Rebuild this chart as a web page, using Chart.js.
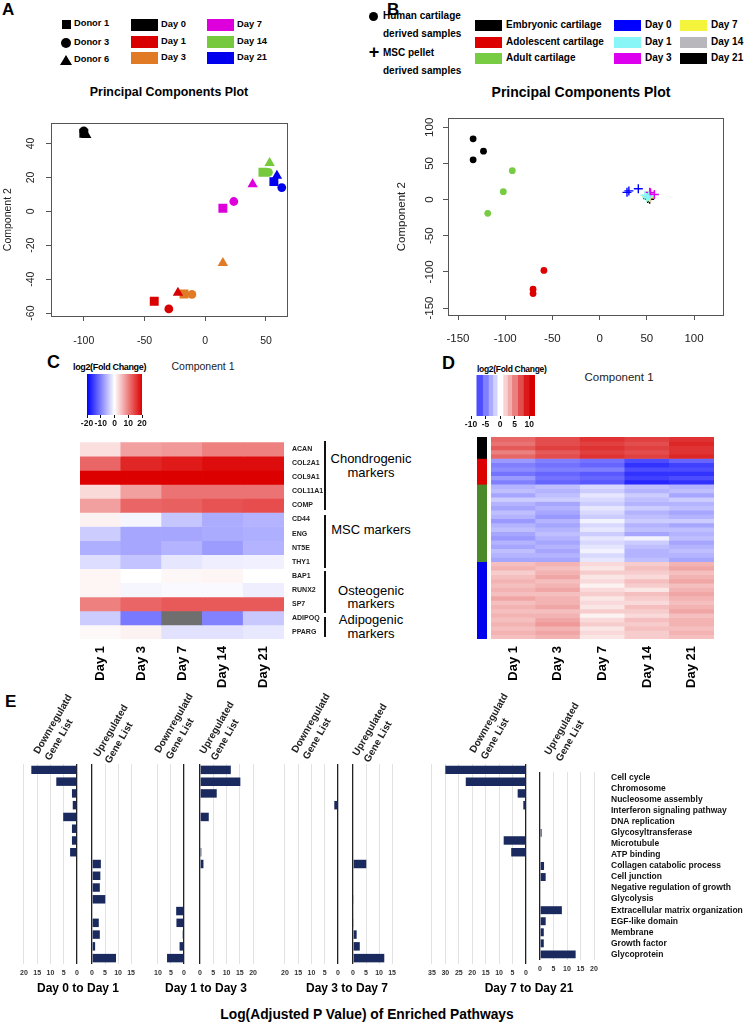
<!DOCTYPE html>
<html>
<head>
<meta charset="utf-8">
<script src="https://cdn.jsdelivr.net/npm/chart.js@4.4.1/dist/chart.umd.min.js"></script>
<style>
body { margin: 0; background: #fff; }
#fig { position: relative; width: 753px; height: 1026px; overflow: hidden; font-family: 'Liberation Sans', Arial, Helvetica, sans-serif; color: #000; }
#fig canvas { position: absolute; }
.t { position: absolute; white-space: nowrap; line-height: 1; }
.hdr { position: absolute; white-space: nowrap; font-weight: bold; font-size: 10px; line-height: 12.5px; color: #222; transform-origin: 0 0; transform: rotate(-60deg); }
</style>
</head>
<body>
<div id="fig"></div>
<script>
// ---- Panel A: PCA, shapes = donors, colours = days ----
const daysA = ['Day 0', 'Day 1', 'Day 3', 'Day 7', 'Day 14', 'Day 21'];
const colorsA = ['#000000', '#d80000', '#e07a24', '#dd00dd', '#76c83c', '#0000ee'];
const donorsA = ['Donor 1', 'Donor 3', 'Donor 6'];
const shapesA = ['rect', 'circle', 'triangle'];
// component 1 / component 2, one row per day, donors 1, 3, 6
const pcaA_x = [[-100, -100, -98], [-42, -30, -22.5], [-17.5, -11, 14.5], [14.5, 23.5, 39], [47.5, 52, 53], [56.5, 63, 59]];
const pcaA_y = [[46, 47.4, 45], [-53, -57.5, -48], [-48.7, -49, -30.5], [1.8, 5.8, 16], [23, 23, 28.5], [17.5, 14, 21]];

// ---- Panel B: PCA, cartilage samples vs MSC pellets ----
const groupsB = ['Embryonic cartilage', 'Adolescent cartilage', 'Adult cartilage', 'Day 0', 'Day 1', 'Day 3', 'Day 7', 'Day 14', 'Day 21'];
const colorsB = ['#000000', '#dd0000', '#77cc44', '#0000ff', '#88f6f6', '#dd00ee', '#f4f43c', '#b8b8bc', '#000000'];
const pcaB_x = [[-134, -134, -123], [-59, -70.5, -70.5], [-92.5, -102, -118.5], [29, 31, 41], [50, 52, 48], [54, 58, 53], [51, 53, 50], [50, 52, 54], [51, 52, 53]];
const pcaB_y = [[84, 55, 67], [-98, -124, -130], [40, 11, -19], [10, 12, 15], [3, 5, 6], [9.5, 7, 10], [4, 3, 5], [5, 4, 3], [1.5, 3, 0.5]];

// ---- Panel C: marker genes, log2 fold change ----
const daysHeat = ['Day 1', 'Day 3', 'Day 7', 'Day 14', 'Day 21'];
const genesC = ['ACAN', 'COL2A1', 'COL9A1', 'COL11A1', 'COMP', 'CD44', 'ENG', 'NT5E', 'THY1', 'BAP1', 'RUNX2', 'SP7', 'ADIPOQ', 'PPARG'];
const foldC = [
    [2.5, 7.5, 8, 10, 10],
    [12, 17, 18, 19, 19],
    [20, 20, 20, 20, 20],
    [3, 7.5, 11, 11, 11],
    [7.5, 12, 12.5, 13.5, 14],
    [1, -0.8, -4.5, -6.5, -6],
    [-4, -7, -7, -6.7, -6.3],
    [-6.3, -7, -6, -7.8, -6],
    [-2.7, -4.7, -2, -1.3, -1.2],
    [0.8, 0, 0.6, 0.8, 0],
    [0.8, -0.7, -0.5, -0.5, -1.3],
    [10, 12, 13, 13, 13],
    [-4, -10.5, null, -9.8, -4.3],
    [0.5, 1, -2.3, -2.3, -1.8]
];
const groupsC = [['Chondrogenic', 'markers'], ['MSC markers'], ['Osteogenic', 'markers'], ['Adipogenic', 'markers']];

// ---- Panel D: genes grouped by cartilage signature ----
const dGroupColors = ['#000000', '#dd0000', '#4a8a2a', '#0000ee'];
const foldD_black = [
    [6, 7, 8, 7.5, 8], [5.5, 7, 7.5, 7, 8.5], [6.5, 7.5, 8, 7.5, 8], [5, 6.5, 7.5, 7, 8], [6, 7, 8, 7.5, 8.5]
];
const foldD_red = [
    [-4, -5, -5.5, -7, -6], [-5, -5.5, -6, -8, -7.5], [-4.5, -5, -5, -7, -7],
    [-5.5, -6, -6.5, -8, -8], [-4, -5.5, -6, -7.5, -7], [-5, -6, -6.5, -8.5, -8]
];
const foldD_green = [
    [-3, -2.5, -1.5, -2.5, -3], [-2.5, -3, -2, -3, -2.5], [-3.5, -2.5, -1, -2, -3.5],
    [-2, -2, -1.5, -2.5, -2], [-3, -3.5, -2, -3, -3], [-3.5, -3, -1, -2, -2.5],
    [-2.5, -3.5, -1.5, -3, -3.5], [-3, -4, -2, -2.5, -3], [-4, -3, -0.5, -2, -2],
    [-3, -3.5, -1.5, -3, -3.5], [-2.5, -3, -1, -2.5, -2.5], [-3.5, -2.5, -2, -3.5, -3],
    [-4, -3, -1, -0.5, -2.5], [-3, -3.5, -1.5, -2, -3.5], [-3.5, -3, -1, -2.5, -3],
    [-2.5, -3.5, -0.5, -3, -2.5], [-3, -3, -1.5, -3, -3], [-3.5, -3.5, -1, -2.5, -3.5]
];
const foldD_blue = [
    [2.5, 3, 1.5, 2, 3], [3, 2.5, 1, 2.5, 3.5], [2, 3, 2, 2, 2.5],
    [2.5, 3.5, 1, 1.5, 3], [3, 2.5, 1.5, 2.5, 3.5], [2.5, 3, 0.5, 2, 2.5],
    [3, 3.5, 1.5, 1, 3], [2.5, 2.5, 2, 2.5, 3.5], [3.5, 3, 1, 2, 3],
    [2.5, 3, 1.5, 1.5, 2.5], [3, 3.5, 1, 2.5, 3], [2.5, 2.5, 2, 2, 3.5],
    [3, 3, 0.5, 1.5, 2.5], [2.5, 3.5, 1.5, 2.5, 3], [3, 4, 2, 2, 3],
    [2.5, 3, 1, 2.5, 2.5], [3, 3.5, 1.5, 2, 3], [2.5, 3, 1, 2, 2.5]
];
const dBarSteps = [-8, -6, -4, -2.5, -1, 1, 2.5, 4, 6, 8, 10, 12];

// ---- Panel E: enriched pathways, log(adjusted p) ----
const pathways = ['Cell cycle', 'Chromosome', 'Nucleosome assembly', 'Interferon signaling pathway', 'DNA replication',
    'Glycosyltransferase', 'Microtubule', 'ATP binding', 'Collagen catabolic process', 'Cell junction',
    'Negative regulation of growth', 'Glycolysis', 'Extracellular matrix organization', 'EGF-like domain',
    'Membrane', 'Growth factor', 'Glycoprotein'];
const eDown01 = [17.2, 7.8, 1.9, 1.6, 5.2, 1.9, 1.9, 2.6, 0, 0, 0, 0, 0, 0, 0, 0, 0];
const eUp01 = [0, 0, 0, 0, 0, 0, 0, 0, 3.4, 3.2, 3.0, 5.1, 0, 2.6, 3.0, 1.2, 9.2];
const eDown13 = [0, 0, 0, 0, 0, 0, 0, 0, 0, 0, 0, 0, 3.0, 2.9, 0.5, 1.7, 6.5];
const eUp13 = [11.6, 15.2, 6.3, 0, 3.3, 0, 0, 0.5, 1.3, 0, 0, 0, 0, 0, 0, 0, 0];
const eDown37 = [0, 0, 0, 1.4, 0, 0, 0, 0, 0, 0, 0, 0, 0, 0, 0, 0, 0];
const eUp37 = [0, 0, 0, 0, 0, 0, 0, 0, 5.1, 0, 0, 0.3, 0, 0.3, 1.4, 2.6, 12];
const eDown721 = [30, 22.4, 3.1, 1.0, 0, 0, 8.3, 5.5, 0, 0, 0, 0, 0, 0, 0, 0, 0];
const eUp721 = [0, 0, 0, 0, 0, 0.6, 0, 0, 1.5, 2.1, 0, 0, 8.1, 2.1, 1.4, 1.4, 13.2];

Chart.defaults.font.family = "'Liberation Sans', Arial, Helvetica, sans-serif";
Chart.defaults.color = '#222';
const fig = document.getElementById('fig');

function makeCanvas(left, top, w, h) {
    const c = document.createElement('canvas');
    c.width = w; c.height = h;
    c.style.left = left + 'px'; c.style.top = top + 'px';
    c.style.width = w + 'px'; c.style.height = h + 'px';
    fig.appendChild(c);
    return c;
}

function txt(s, x, y, size, bold, align) {
    const d = document.createElement('div');
    d.className = 't';
    d.textContent = s;
    d.style.fontSize = size + 'px';
    d.style.fontWeight = bold ? 'bold' : 'normal';
    d.style.top = (y - size * 0.49) + 'px';
    d.style.left = x + 'px';
    if (align === 'center') d.style.transform = 'translateX(-50%)';
    fig.appendChild(d);
    return d;
}

function box(x, y, w, h, color, extra) {
    const d = document.createElement('div');
    d.style.position = 'absolute';
    d.style.left = x + 'px'; d.style.top = y + 'px';
    d.style.width = w + 'px'; d.style.height = h + 'px';
    d.style.background = color;
    if (extra) Object.assign(d.style, extra);
    fig.appendChild(d);
    return d;
}

function rgb(r, g, b) { return `rgb(${Math.round(r)},${Math.round(g)},${Math.round(b)})`; }
function colorC(v) {
    if (v == null) return '#6f6f6f';
    const t = Math.min(Math.abs(v) / 20, 1);
    return v >= 0 ? rgb(255 - 35 * t, 255 * (1 - t), 255 * (1 - t)) : rgb(255 * (1 - t), 255 * (1 - t), 255);
}
function colorD(v) {
    const t = Math.min(Math.abs(v) / 10, 1);
    return v >= 0 ? rgb(255 - 40 * t, 255 * (1 - t), 255 * (1 - t)) : rgb(255 * (1 - t), 255 * (1 - t), 255);
}

// R style box round the plot area
const boxPlugin = {
    id: 'plotBox',
    afterDraw(chart) {
        const a = chart.chartArea, ctx = chart.ctx;
        ctx.save();
        ctx.strokeStyle = '#555';
        ctx.lineWidth = 1;
        ctx.strokeRect(Math.round(a.left) + 0.5, Math.round(a.top) + 0.5, Math.round(a.right - a.left), Math.round(a.bottom - a.top));
        ctx.restore();
    }
};

function pcaAxes(xr, yr, fs, xPad, yPad, titlePad, yWidth, xHeight) {
    const grid = { drawOnChartArea: false, drawTicks: true, tickLength: 5, color: '#555' };
    return {
        x: {
            type: 'linear', min: xr[0], max: xr[1],
            ticks: { stepSize: xr[2], includeBounds: false, font: { size: fs }, color: '#222', padding: xPad, maxRotation: 0 },
            grid, border: { display: false },
            afterFit: s => { s.height = xHeight; }
        },
        y: {
            min: yr[0], max: yr[1],
            ticks: { stepSize: yr[2], includeBounds: false, font: { size: fs }, color: '#222', padding: yPad, minRotation: 90, maxRotation: 90, crossAlign: 'center' },
            grid, border: { display: false },
            title: { display: true, text: 'Component 2', font: { size: fs }, color: '#222', padding: { top: titlePad, bottom: 0 } },
            afterFit: s => { s.width = yWidth; }
        }
    };
}

// ---------- Panel A ----------
txt('A', 2, 9, 17, true);
box(62, 20, 9, 9, '#000');
box(61, 38, 10, 10, '#000', { borderRadius: '50%' });
box(60, 55, 0, 0, 'transparent', { borderLeft: '6px solid transparent', borderRight: '6px solid transparent', borderBottom: '10px solid #000' });
donorsA.forEach((d, i) => txt(d, 74, [24, 43, 60][i], 9.3, true));
daysA.forEach((d, i) => {
    const col = Math.floor(i / 3), row = i % 3;
    box(131 + col * 76, [19, 36, 52][row], 27, 12, colorsA[i]);
    txt(d, 161 + col * 76, [25, 41.5, 58][row], 9.3, true);
});
txt('Principal Components Plot', 169, 92, 12.4, true, 'center');

new Chart(makeCanvas(0, 110, 300, 240), {
    type: 'scatter',
    data: {
        datasets: daysA.map((d, i) => ({
            label: d,
            data: pcaA_x[i].map((x, j) => ({ x, y: pcaA_y[i][j] })),
            pointStyle: shapesA,
            pointRadius: [6.3, 4.4, 6],
            backgroundColor: colorsA[i],
            borderColor: colorsA[i],
            borderWidth: 0
        }))
    },
    options: {
        responsive: false, animation: false,
        layout: { autoPadding: false, padding: { left: 0, top: 6, right: 13, bottom: 0 } },
        plugins: { legend: { display: false }, tooltip: { enabled: false } },
        scales: pcaAxes([-127, 67.3, 50], [-61.7, 51.9, 20], 10.5, 14, 7, 1.5, 51, 34)
    },
    plugins: [boxPlugin]
});
txt('Component 1', 203, 366, 10.5, false, 'center').style.color = '#222';

// ---------- Panel B ----------
txt('B', 387, 9, 17, true);
box(368.5, 11.5, 9, 9, '#000', { borderRadius: '50%' });
txt('+', 374, 52, 18, true, 'center');
['Human cartilage', 'derived samples', 'MSC pellet', 'derived samples'].forEach((s, i) => txt(s, 383, [16, 34, 53, 71][i], 10, true));
groupsB.forEach((g, i) => {
    const col = i < 3 ? 0 : (i < 6 ? 1 : 2), row = i % 3;
    const sx = [475, 614, 680][col];
    box(sx, [20, 37, 53][row], 27, 11, colorsB[i]);
    txt(g, sx + 31, [25, 42, 58][row], 10, true);
});
txt('Principal Components Plot', 581, 92, 14, true, 'center');

new Chart(makeCanvas(380, 110, 360, 240), {
    type: 'scatter',
    data: {
        datasets: groupsB.map((g, i) => ({
            label: g,
            data: pcaB_x[i].map((x, j) => ({ x, y: pcaB_y[i][j] })),
            pointStyle: i < 3 ? 'circle' : 'cross',
            pointRadius: i < 3 ? 3.4 : 4.5,
            backgroundColor: colorsB[i],
            borderColor: colorsB[i],
            borderWidth: i < 3 ? 0 : 1.4
        }))
    },
    options: {
        responsive: false, animation: false,
        layout: { autoPadding: false, padding: { left: 0, top: 6, right: 17, bottom: 0 } },
        plugins: { legend: { display: false }, tooltip: { enabled: false } },
        scales: pcaAxes([-160.6, 130.7, 50], [-159.6, 112.3, 50], 11.5, 12, 1.5, 15, 68, 35)
    },
    plugins: [boxPlugin]
});
txt('Component 1', 619, 378, 11.5, false, 'center').style.color = '#222';

// ---------- colour keys for C and D ----------
function colorKey(left, top, w, min, max, steps, fill) {
    const datasets = steps
        ? steps.slice(0, -1).map((s, i) => ({ data: [[s, steps[i + 1]]], backgroundColor: colorD((s + steps[i + 1]) / 2), grouped: false, barPercentage: 1, categoryPercentage: 1 }))
        : [{ data: [[min, max]], backgroundColor: fill, barPercentage: 1, categoryPercentage: 1 }];
    new Chart(makeCanvas(left - 12, top, w + 24, 62), {
        type: 'bar',
        data: { labels: [''], datasets },
        options: {
            indexAxis: 'y', responsive: false, animation: false,
            layout: { autoPadding: false, padding: { left: 12, right: 12, top: 4, bottom: 0 } },
            plugins: { legend: { display: false }, tooltip: { enabled: false } },
            scales: {
                y: { display: false },
                x: {
                    min, max,
                    ticks: { stepSize: steps ? 5 : 10, includeBounds: false, autoSkip: false, maxRotation: 0, padding: 1, font: { size: 8.5, weight: 'bold' }, color: '#111' },
                    grid: { drawOnChartArea: false, drawTicks: true, tickLength: 3, color: '#111' },
                    border: { display: false },
                    afterFit: s => { s.height = 17; }
                }
            }
        }
    });
}

// ---------- Panel C ----------
txt('C', 47, 362, 18, true);
txt('log2(Fold Change)', 73, 367, 9, true).style.letterSpacing = '-0.35px';
colorKey(87, 370, 55, -20, 20, null, c => {
    const a = c.chart.chartArea;
    if (!a) return '#fff';
    const g = c.chart.ctx.createLinearGradient(a.left, 0, a.right, 0);
    g.addColorStop(0, '#0000ff');
    g.addColorStop(0.5, '#ffffff');
    g.addColorStop(1, '#dc0000');
    return g;
});

const dayTicks = { minRotation: 90, maxRotation: 90, padding: 7, font: { size: 13, weight: 'bold' }, color: '#000' };

new Chart(makeCanvas(60, 430, 270, 290), {
    type: 'bar',
    data: {
        labels: daysHeat,
        datasets: genesC.map((g, i) => ({
            label: g,
            data: daysHeat.map(() => 1),
            backgroundColor: foldC[i].map(colorC),
            borderWidth: 0, barPercentage: 1, categoryPercentage: 1
        }))
    },
    options: {
        responsive: false, animation: false,
        layout: { autoPadding: false, padding: { left: 20, top: 6, right: 0, bottom: 0 } },
        plugins: { legend: { display: false }, tooltip: { enabled: false } },
        scales: {
            x: {
                stacked: true,
                grid: { display: false, drawTicks: false }, border: { display: false },
                ticks: dayTicks,
                afterFit: s => { s.height = 81; }
            },
            y: {
                stacked: true, min: 0, max: genesC.length, reverse: true, position: 'right',
                grid: { display: false, drawTicks: false }, border: { display: false },
                afterBuildTicks: s => { s.ticks = genesC.map((g, i) => ({ value: i + 0.5 })); },
                ticks: { autoSkip: false, padding: 8, font: { size: 7, weight: 'bold' }, color: '#222', callback: v => genesC[Math.floor(v)] },
                afterFit: s => { s.width = 46; }
            }
        }
    }
});

// group brackets and names
[[441, 510], [515, 568], [571, 613], [617, 637]].forEach(([a, b]) => box(324, a, 1.5, b - a, '#111'));
[[458, 472], [529], [590, 603], [619, 633]].forEach((ys, i) => {
    groupsC[i].forEach((s, j) => txt(s, 371, ys[j], 13, false, 'center'));
});

// ---------- Panel D ----------
txt('D', 442, 363, 18, true);
txt('log2(Fold Change)', 477, 369, 8.5, true).style.letterSpacing = '-0.3px';
colorKey(471, 371, 64, -10, 12, dBarSteps, null);

const foldD = foldD_black.concat(foldD_red, foldD_green, foldD_blue);
const groupSizesD = [foldD_black.length, foldD_red.length, foldD_green.length, foldD_blue.length];

new Chart(makeCanvas(475, 430, 14, 290), {
    type: 'bar',
    data: {
        labels: [''],
        datasets: groupSizesD.map((n, i) => ({ data: [n], backgroundColor: dGroupColors[i], borderWidth: 0, barPercentage: 1, categoryPercentage: 1 }))
    },
    options: {
        responsive: false, animation: false,
        layout: { autoPadding: false, padding: { left: 2, top: 7, right: 2, bottom: 81 } },
        plugins: { legend: { display: false }, tooltip: { enabled: false } },
        scales: {
            x: { display: false, stacked: true },
            y: { display: false, stacked: true, min: 0, max: foldD.length, reverse: true }
        }
    }
});

new Chart(makeCanvas(488, 430, 230, 290), {
    type: 'bar',
    data: {
        labels: daysHeat,
        datasets: foldD.map(row => ({
            data: daysHeat.map(() => 1),
            backgroundColor: row.map(colorD),
            borderWidth: 0, barPercentage: 1, categoryPercentage: 1
        }))
    },
    options: {
        responsive: false, animation: false,
        layout: { autoPadding: false, padding: { left: 3, top: 7, right: 4, bottom: 0 } },
        plugins: { legend: { display: false }, tooltip: { enabled: false } },
        scales: {
            x: {
                stacked: true,
                grid: { display: false, drawTicks: false }, border: { display: false },
                ticks: dayTicks,
                afterFit: s => { s.height = 81; }
            },
            y: { display: false, stacked: true, min: 0, max: foldD.length, reverse: true }
        }
    }
});

// ---------- Panel E ----------
txt('E', 5, 701, 17, true);

function barE(left, right, values, max, down, showNames) {
    const padL = 8, padR = showNames ? 0 : 8;
    const cw = showNames ? 753 - left + padL : right - left + 16;
    const yAxis = {
        display: showNames, position: 'right',
        grid: { display: false, drawTicks: false }, border: { display: false },
        ticks: { autoSkip: false, padding: 17, font: { size: 8.5, weight: 'bold' }, color: '#111' }
    };
    if (showNames) yAxis.afterFit = s => { s.width = 159; };
    new Chart(makeCanvas(left - padL, 750, cw, 232), {
        type: 'bar',
        data: {
            labels: pathways,
            datasets: [{ data: values, backgroundColor: '#1b2a5e', borderWidth: 0, barPercentage: 0.72, categoryPercentage: 1, inflateAmount: 0 }]
        },
        options: {
            indexAxis: 'y', responsive: false, animation: false,
            layout: { autoPadding: false, padding: { left: padL, right: padR, top: 14, bottom: 0 } },
            plugins: { legend: { display: false }, tooltip: { enabled: false } },
            scales: {
                x: {
                    min: 0, max, reverse: down,
                    ticks: { stepSize: 5, includeBounds: false, autoSkip: false, maxRotation: 0, padding: 5, font: { size: 7, weight: 'bold' }, color: '#333' },
                    grid: {
                        drawTicks: false,
                        color: c => (c.tick && c.tick.value === 0 ? '#222' : '#e2e2e2'),
                        lineWidth: c => (c.tick && c.tick.value === 0 ? 1.3 : 1)
                    },
                    border: { display: false },
                    afterFit: s => { s.height = 18; }
                },
                y: yAxis
            }
        }
    });
}

barE(23, 77, eDown01, 20, true, false);
barE(92, 132, eUp01, 15, false, false);
barE(157, 184, eDown13, 10, true, false);
barE(200, 254, eUp13, 20, false, false);
barE(284, 338, eDown37, 20, true, false);
barE(353, 393, eUp37, 15, false, false);
barE(431, 526, eDown721, 35, true, false);
barE(540, 594, eUp721, 20, false, true);

function header(lines, x, y) {
    const d = document.createElement('div');
    d.className = 'hdr';
    d.innerHTML = lines.join('<br>');
    d.style.left = x + 'px';
    d.style.top = y + 'px';
    fig.appendChild(d);
}
const downHdr = ['Downregulatd', 'Gene List'], upHdr = ['Upregulated', 'Gene List'];
header(downHdr, 30.9, 750.2);
header(upHdr, 90.9, 752.9);
header(downHdr, 151.6, 748.5);
header(upHdr, 197.3, 750.2);
header(downHdr, 289.3, 748.5);
header(upHdr, 349.9, 751.9);
header(downHdr, 466.6, 748.5);
header(upHdr, 541.6, 750.9);

[['Day 0 to Day 1', 78], ['Day 1 to Day 3', 206], ['Day 3 to Day 7', 347], ['Day 7 to Day 21', 529]].forEach(([s, x]) => txt(s, x, 988, 12, true, 'center'));
txt('Log(Adjusted P Value) of Enriched Pathways', 367, 1015, 13.8, true, 'center');
</script>
</body>
</html>
